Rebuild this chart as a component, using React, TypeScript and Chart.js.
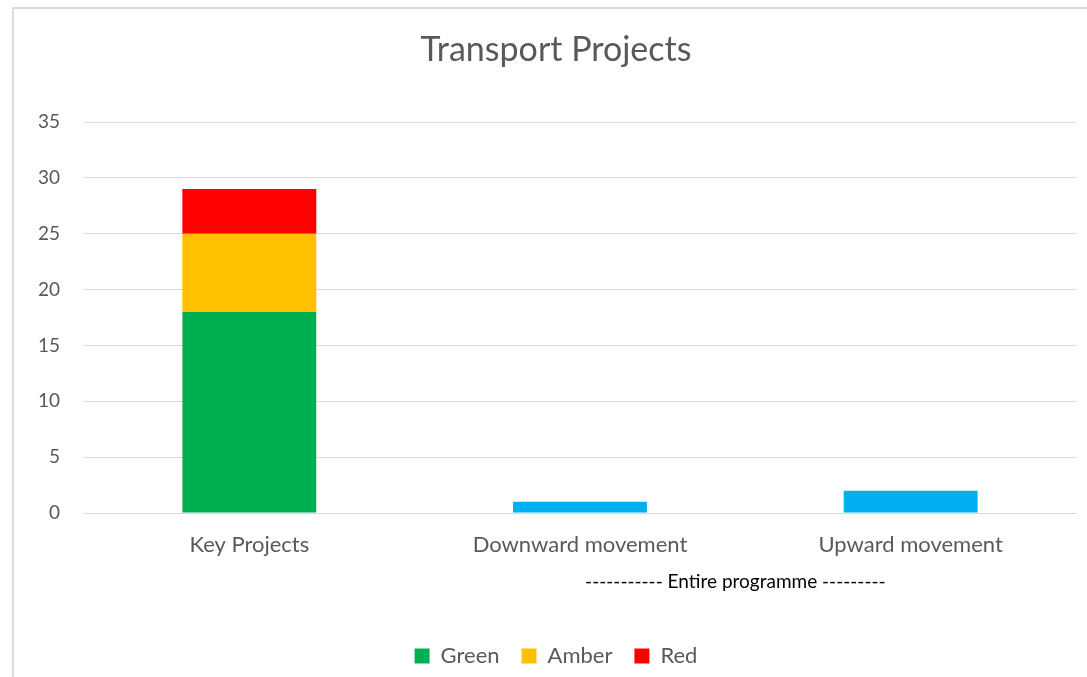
import React, { useEffect, useRef } from "react";
import { Chart, registerables } from "chart.js";

Chart.register(...registerables);

const categories = ["Key Projects", "Downward movement", "Upward movement"];
const greenValues = [18, null, null];
const amberValues = [7, null, null];
const redValues = [4, null, null];
const movementValues = [null, 1, 2];
const yMin = 0;
const yMax = 35;
const yStep = 5;
const titleText = "Transport Projects";
const groupLabel = "----------- Entire programme ---------";

const FONT = "Lato, 'Open Sans', sans-serif";
const TEXT = "#595959";
const GRID = "#d9d9d9";

export default function App() {
  const ref = useRef<HTMLCanvasElement | null>(null);

  useEffect(() => {
    if (!ref.current) return;
    const groupPlugin = {
      id: "groupLabel",
      afterDraw(chart: any) {
        const ctx = chart.ctx;
        const x = chart.scales.x;
        const cx = (x.getPixelForValue(1) + x.getPixelForValue(2)) / 2 - 10;
        const cy = chart.chartArea.bottom + 69;
        ctx.save();
        ctx.font = `19px ${FONT}`;
        ctx.fillStyle = "#000000";
        ctx.textAlign = "center";
        ctx.textBaseline = "middle";
        ctx.fillText(groupLabel, cx, cy);
        ctx.restore();
      },
    };
    const chart = new Chart(ref.current, {
      type: "bar",
      data: {
        labels: categories,
        datasets: [
          { label: "Green", data: greenValues, backgroundColor: "#00B050" },
          { label: "Amber", data: amberValues, backgroundColor: "#FFC000" },
          { label: "Red", data: redValues, backgroundColor: "#FF0000" },
          { label: "Movement", data: movementValues, backgroundColor: "#00B0F0" },
        ] as any,
      },
      options: {
        animation: false,
        responsive: false,
        maintainAspectRatio: false,
        layout: { padding: { left: 36, right: 11, top: 0, bottom: 0 } },
        datasets: { bar: { categoryPercentage: 1, barPercentage: 0.405 } } as any,
        plugins: {
          title: {
            display: true,
            text: titleText,
            color: TEXT,
            font: { family: FONT, size: 34, weight: "normal" },
            padding: { top: 30, bottom: 51.2 },
          },
          legend: {
            position: "bottom",
            labels: {
              color: TEXT,
              font: { family: FONT, size: 22 },
              boxWidth: 15,
              boxHeight: 15,
              padding: 22,
              filter: (item: any) => item.text !== "Movement",
            },
          },
          tooltip: { enabled: false },
        },
        scales: {
          x: {
            stacked: true,
            grid: { display: false, drawTicks: false },
            border: { display: true, color: GRID, width: 1 },
            ticks: { color: TEXT, font: { family: FONT, size: 22 }, padding: 19 },
            afterFit: (scale: any) => {
              scale.height = 110;
            },
          },
          y: {
            stacked: true,
            min: yMin,
            max: yMax,
            ticks: { stepSize: yStep, color: TEXT, font: { family: FONT, size: 19 }, padding: 24 },
            grid: { color: GRID, lineWidth: 1, drawTicks: false },
            border: { display: false },
            afterFit: (scale: any) => {
              scale.width = 48;
            },
          },
        },
      },
      plugins: [groupPlugin],
    });
    return () => chart.destroy();
  }, []);

  return (
    <div
      style={{
        position: "fixed",
        left: 0,
        top: 0,
        width: 1087,
        height: 677,
        background: "#ffffff",
        overflow: "hidden",
      }}
    >
      <div
        style={{
          position: "absolute",
          left: 12,
          top: 7,
          width: 2000,
          height: 2000,
          border: "2px solid #dcdcdc",
          boxSizing: "border-box",
        }}
      />
      <canvas
        ref={ref}
        width={1087}
        height={677}
        style={{ position: "absolute", left: 0, top: 0, width: 1087, height: 677 }}
      />
    </div>
  );
}
